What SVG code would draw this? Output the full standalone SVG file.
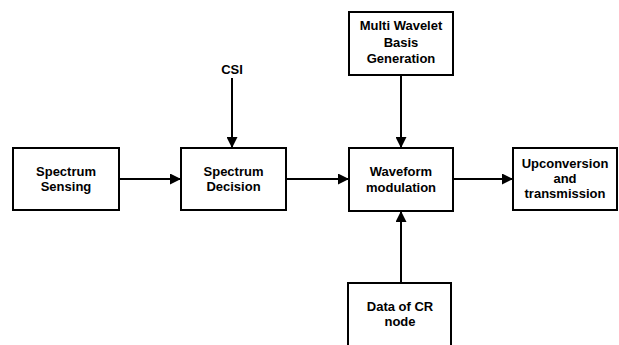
<svg xmlns="http://www.w3.org/2000/svg" width="619" height="345" viewBox="0 0 619 345">
<defs>
<style>
.box{fill:#fff;stroke:#000;stroke-width:2}
.t{font-family:"Liberation Sans",Arial,sans-serif;font-weight:bold;font-size:13px;text-anchor:middle;fill:#000}
.c{stroke:#000;stroke-width:2;fill:none;marker-end:url(#ah)}
</style>
<marker id="ah" viewBox="0 0 10 10" refX="10" refY="5" markerWidth="5.5" markerHeight="5.5" orient="auto" markerUnits="strokeWidth">
<path d="M0,0 L10,5 L0,10 Z" fill="#000"/>
</marker>
</defs>
<rect width="619" height="345" fill="#fff"/>
<g id="connectors">
<path class="c" d="M119,179 H181"/>
<path class="c" d="M286,179 H349"/>
<path class="c" d="M453,179 H513"/>
<path class="c" d="M232,78 V148"/>
<path class="c" d="M401,75 V148"/>
<path class="c" d="M401,283 V211"/>
</g>
<g id="spectrum-sensing">
<rect class="box" x="13" y="148" width="106" height="62"/>
<text class="t" x="66" y="175.5">Spectrum</text>
<text class="t" x="66" y="191">Sensing</text>
</g>
<g id="spectrum-decision">
<rect class="box" x="181" y="148" width="105" height="62"/>
<text class="t" x="233.5" y="175.5">Spectrum</text>
<text class="t" x="233.5" y="191">Decision</text>
</g>
<g id="csi">
<text class="t" x="232" y="74">CSI</text>
</g>
<g id="multi-wavelet">
<rect class="box" x="349" y="12" width="104" height="63"/>
<text class="t" x="401" y="30">Multi Wavelet</text>
<text class="t" x="401" y="46.5">Basis</text>
<text class="t" x="401" y="63">Generation</text>
</g>
<g id="waveform">
<rect class="box" x="349" y="148" width="104" height="63"/>
<text class="t" x="401" y="176">Waveform</text>
<text class="t" x="401" y="191.5">modulation</text>
</g>
<g id="upconversion">
<rect class="box" x="513" y="148" width="104" height="62"/>
<text class="t" x="565" y="168">Upconversion</text>
<text class="t" x="565" y="183">and</text>
<text class="t" x="565" y="198">transmission</text>
</g>
<g id="data-cr">
<rect class="box" x="348" y="283" width="103" height="70"/>
<text class="t" x="400" y="311">Data of CR</text>
<text class="t" x="400" y="326">node</text>
</g>
</svg>
